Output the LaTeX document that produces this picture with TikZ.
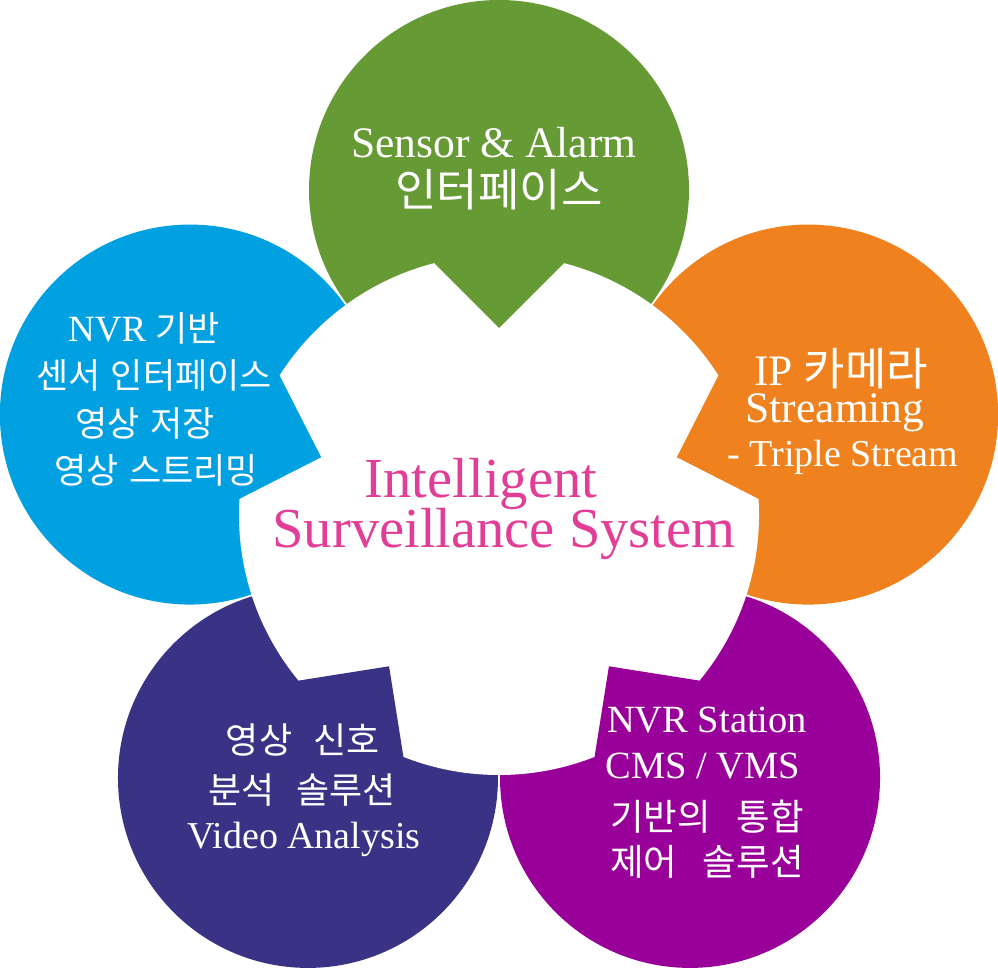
\documentclass[tikz,border=0pt]{standalone}
\usepackage{fontspec}
\setmainfont{Liberation Serif}
\newfontfamily\kr{Noto Sans CJK KR}
\usetikzlibrary{calc}
\definecolor{sagreen}{HTML}{669A35}
\definecolor{saorange}{HTML}{EF821E}
\definecolor{sablue}{HTML}{00A0E1}
\definecolor{saindigo}{HTML}{3A3285}
\definecolor{sapurple}{HTML}{990099}
\definecolor{sapink}{HTML}{E23E97}
\newcommand\kgap[1]{\hspace{#1em}}
\newcommand\ksize[1]{\kr\fontsize{#1}{#1}\selectfont}
\tikzset{
  lab/.style={text=white, anchor=base, inner sep=0pt, font=\fontsize{#1}{#1}\selectfont},
  klab/.style={lab=#1, font=\ksize{#1}},
}
\begin{document}
\begin{tikzpicture}[x=1pt,y=1pt]
  \fill[white] (0,0) rectangle (998,967);
  \useasboundingbox (0,0) rectangle (998,967);
  \coordinate (hub) at (499,452);
  % five circles round the hub
  \foreach \a/\col/\nm in {90/sagreen/top, 18/saorange/right, -54/sapurple/lowright, -126/saindigo/lowleft, 162/sablue/left} {
    \coordinate (\nm) at ($(hub)+(\a:325pt)$);
    \fill[\col] (\nm) circle (190pt);
  }
  \fill[white] (hub) circle (260pt);
  % pointed tips towards the hub
  \foreach \a/\col in {90/sagreen, 18/saorange, -54/sapurple, -126/saindigo, 162/sablue} {
    \fill[\col] ($(hub)+(\a:187pt)$) -- ++(\a+45:92pt) -- ($(hub)+(\a:325pt)$)
      -- ($(hub)+(\a:187pt)+(\a-45:92pt)$) -- cycle;
  }
  % top
  \node[lab=43.5] (topA) at (494,809) {Sensor \& Alarm};
  \node[klab=45] (topB) at (499,760) {인터페이스};
  % right
  \node[lab=43.5] (rightA) at (841,581) {IP {\ksize{45}\smash{카메라}}};
  \node[lab=43.5] (rightB) at (835,544) {Streaming};
  \node[lab=38] (rightC) at (843,500) {- Triple Stream};
  % left
  \node[lab=37] (leftA) at (144,625) {NVR {\ksize{35}기반}};
  \node[klab=35] (leftB) at (154,578) {센서\kgap{.3}인터페이스};
  \node[klab=35] (leftC) at (145,530) {영상\kgap{.3}저장};
  \node[klab=35] (leftD) at (156,483) {영상\kgap{.3}스트리밍};
  % lower left
  \node[klab=36] (lowleftA) at (303,214) {영상\kgap{.6}신호};
  \node[klab=36] (lowleftB) at (302,164) {분석\kgap{.6}솔루션};
  \node[lab=38] (lowleftC) at (304,119) {Video Analysis};
  % lower right
  \node[lab=38.5] (lowrightA) at (707,235) {NVR Station};
  \node[lab=38.5] (lowrightB) at (703,189) {CMS / VMS};
  \node[klab=36.5] (lowrightC) at (707,137) {기반의\kgap{.7}통합};
  \node[klab=36.5] (lowrightD) at (707,92) {제어\kgap{.7}솔루션};
  % hub
  \node[lab=56.5, text=sapink] (hubA) at (481,469) {Intelligent};
  \node[lab=56.5, text=sapink] (hubB) at (504,419) {Surveillance System};
\end{tikzpicture}
\end{document}
